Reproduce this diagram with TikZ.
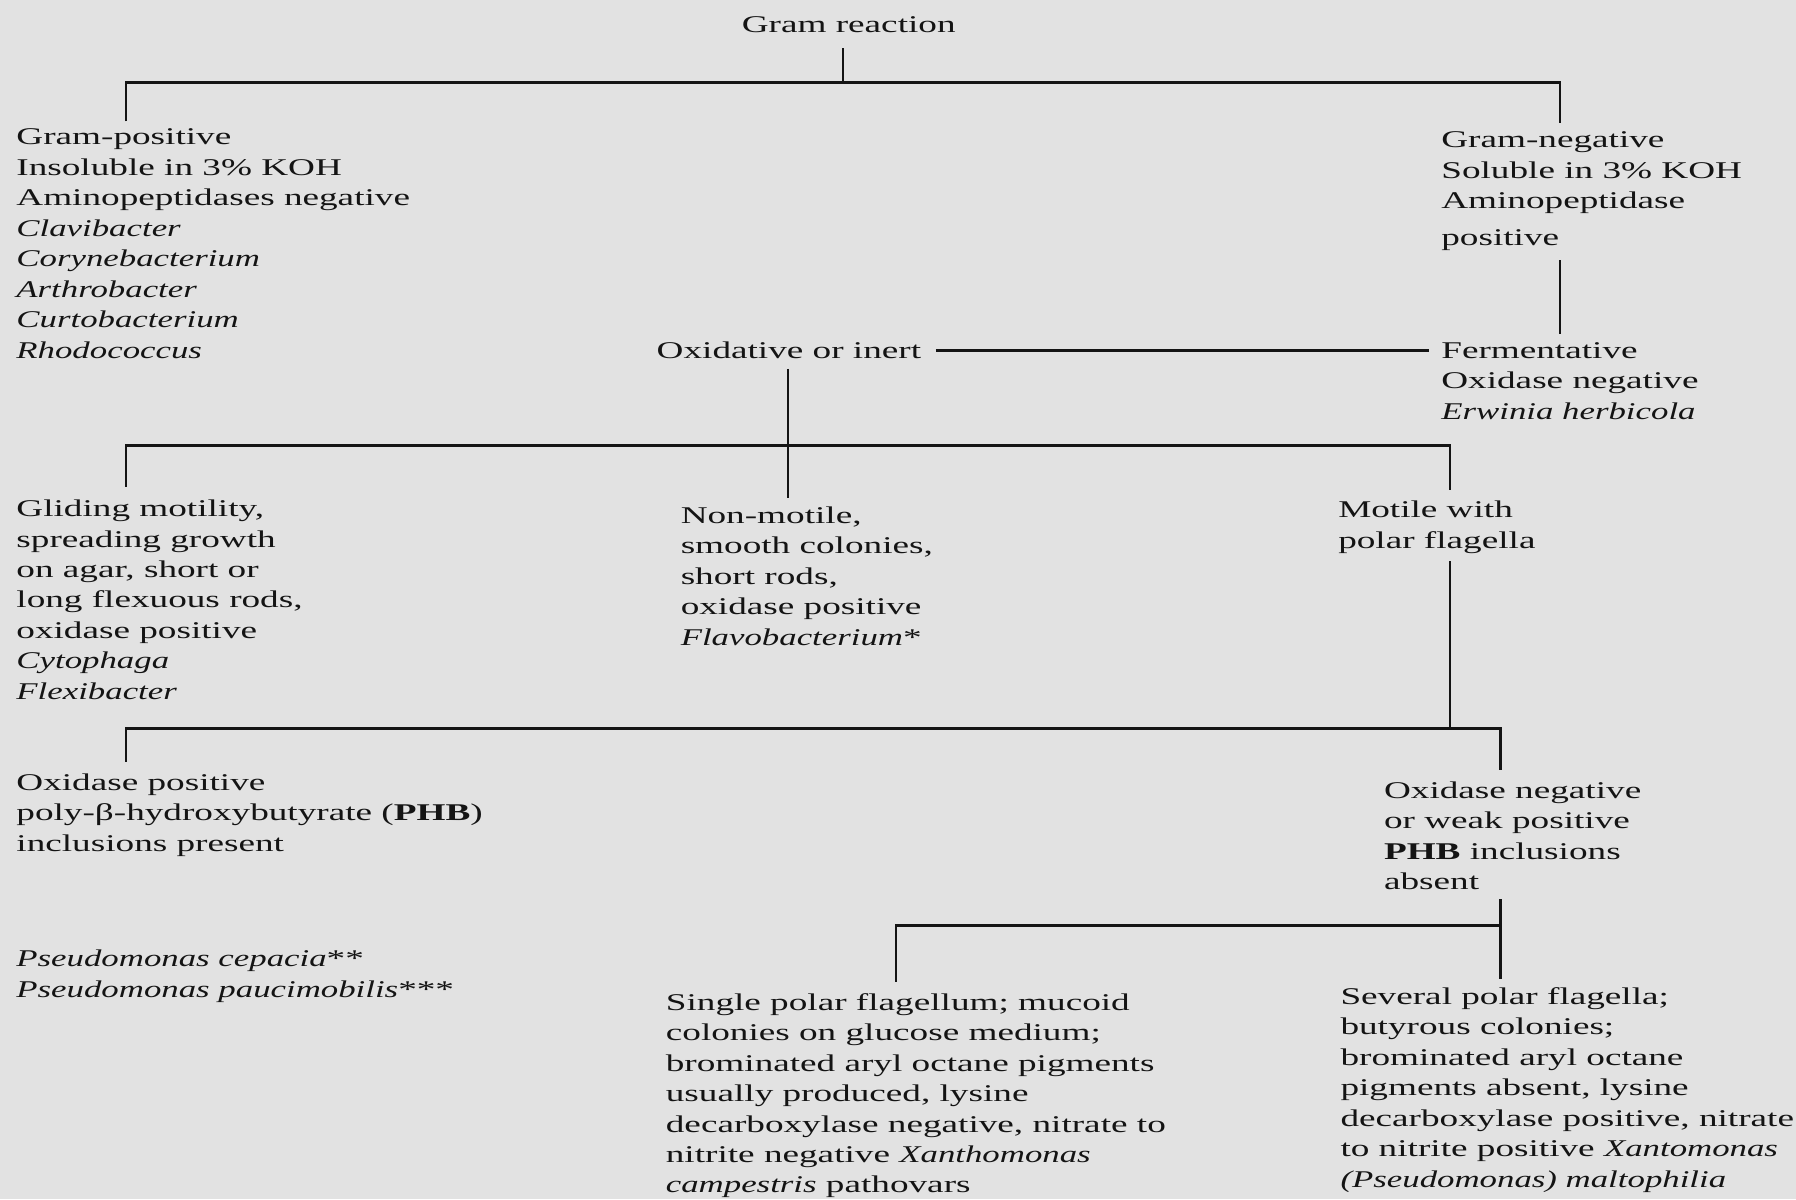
\documentclass[tikz,border=0pt]{standalone}
\usepackage{fontspec}
\setmainfont[FakeStretch=1.55,ItalicFeatures={FakeStretch=1.45},BoldItalicFeatures={FakeStretch=1.45}]{Liberation Serif}
\definecolor{bg}{RGB}{226,226,226}
\definecolor{ink}{RGB}{20,20,20}
\begin{document}
\begin{tikzpicture}[x=0.5727pt,y=-0.5727pt,
  txt/.style={anchor=north west,inner sep=0pt,align=left,text=ink,
    font=\fontsize{12}{15.23}\selectfont},
  ln/.style={line width=1.1pt,draw=ink}]
\fill[bg] (0,0) rectangle (1568,1047);
\useasboundingbox (0,0) rectangle (1568,1047);

% nodes
\node[txt,anchor=center] (gram) at (741,23) {\strut Gram reaction};
\node[txt] (gpos) at (14,107.5) {\strut Gram-positive\\Insoluble in 3\% KOH\\Aminopeptidases negative\\
  \textit{Clavibacter}\\\textit{Corynebacterium}\\\textit{Arthrobacter}\\\textit{Curtobacterium}\\\textit{Rhodococcus}};
\node[txt] (gneg) at (1258,110) {\strut Gram-negative\\Soluble in 3\% KOH\\Aminopeptidase\\[3.4pt]positive};
\node[txt] (oxid) at (573,294) {\strut Oxidative or inert};
\node[txt] (ferm) at (1258,294) {\strut Fermentative\\Oxidase negative\\\textit{Erwinia herbicola}};
\node[txt] (glid) at (14,432) {\strut Gliding motility,\\spreading growth\\on agar, short or\\long flexuous rods,\\oxidase positive\\\textit{Cytophaga}\\\textit{Flexibacter}};
\node[txt] (nonm) at (594,438) {\strut Non-motile,\\smooth colonies,\\short rods,\\oxidase positive\\\textit{Flavobacterium}*};
\node[txt] (moti) at (1168,433) {\strut Motile with\\polar flagella};
\node[txt] (oxpo) at (14,671) {\strut Oxidase positive\\poly-β-hydroxybutyrate (\textbf{PHB})\\inclusions present};
\node[txt] (pseu) at (14,825) {\strut \textit{Pseudomonas cepacia}**\\\textit{Pseudomonas paucimobilis}***};
\node[txt] (oxne) at (1208,678) {\strut Oxidase negative\\or weak positive\\\textbf{PHB} inclusions\\absent};
\node[txt] (sing) at (581,863) {\strut Single polar flagellum; mucoid\\colonies on glucose medium;\\brominated aryl octane pigments\\usually produced, lysine\\decarboxylase negative, nitrate to\\nitrite negative \textit{Xanthomonas}\\\textit{campestris} pathovars};
\node[txt] (seve) at (1170,858) {\strut Several polar flagella;\\butyrous colonies;\\brominated aryl octane\\pigments absent, lysine\\decarboxylase positive, nitrate\\to nitrite positive \textit{Xantomonas}\\\textit{(Pseudomonas) maltophilia}};

% junction coordinates
\coordinate (g0) at (736,42);
\coordinate (gL) at (110,72);
\coordinate (gR) at (1362,72);
\coordinate (gposT) at (110,106);
\coordinate (gnegT) at (1362,107);
\coordinate (gnegB) at (1362,227);
\coordinate (fermT) at (1362,292);
\coordinate (oxE) at (817,306);
\coordinate (fermW) at (1248,306);
\coordinate (oxB) at (688,322);
\coordinate (nonT) at (688,435);
\coordinate (oL) at (110,389);
\coordinate (oR) at (1266,389);
\coordinate (glidT) at (110,425);
\coordinate (motT) at (1266,428);
\coordinate (motB) at (1266,490);
\coordinate (mL) at (110,636);
\coordinate (mR) at (1310,636);
\coordinate (oxpoT) at (110,665);
\coordinate (oxneT) at (1310,672);
\coordinate (oxneB) at (1310,785);
\coordinate (sevT) at (1310,855);
\coordinate (sL) at (782,808);
\coordinate (singT) at (782,857);

% connectors
\draw[ln] (g0) -- (g0 |- gL);
\draw[ln] (gposT) -- (gL) -- (gR) -- (gnegT);
\draw[ln] (gnegB) -- (fermT);
\draw[ln] (oxE) -- (fermW);
\draw[ln] (oxB) -- (nonT);
\draw[ln] (glidT) -- (oL) -- (oR) -- (motT);
\draw[ln] (motB) -- (motB |- mL);
\draw[ln] (oxpoT) -- (mL) -- (mR) -- (oxneT);
\draw[ln] (oxneB) -- (sevT);
\draw[ln] (singT) -- (sL) -- (sL -| oxneB);
\end{tikzpicture}
\end{document}
